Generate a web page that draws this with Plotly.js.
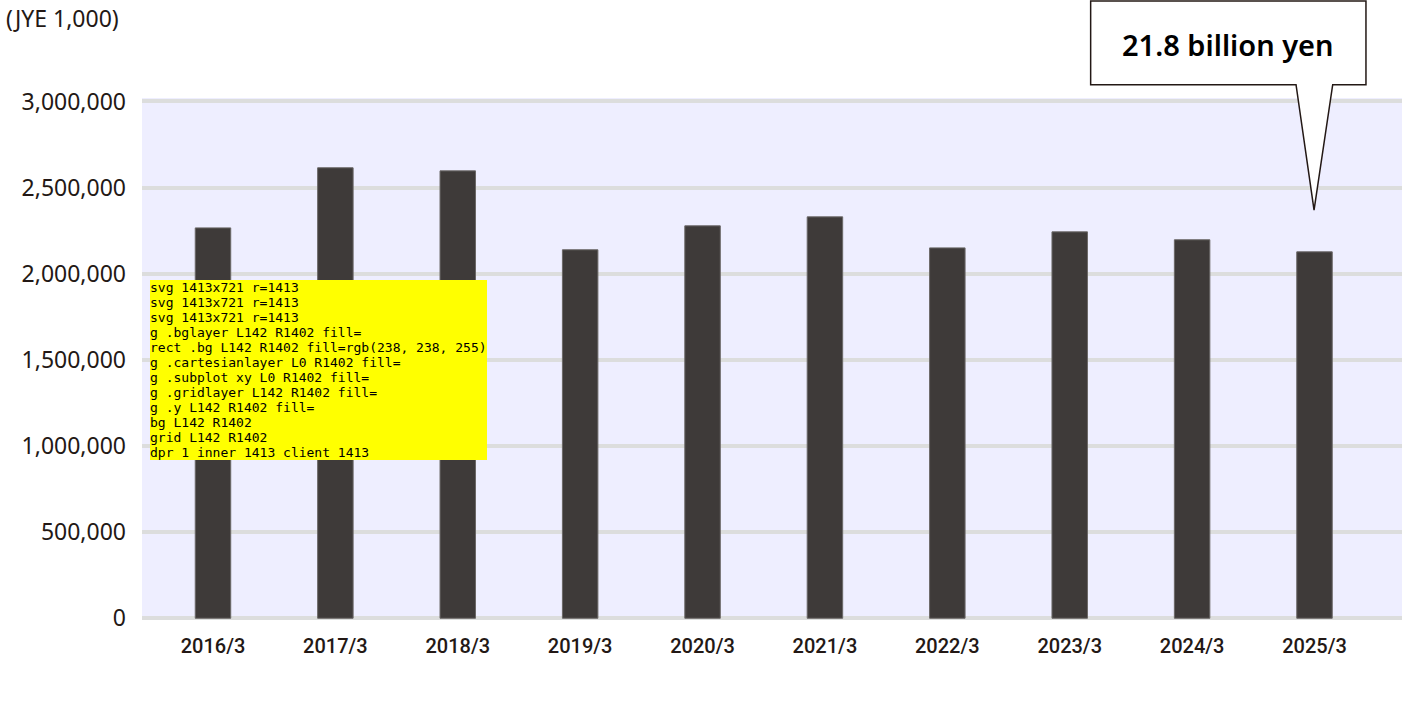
<!DOCTYPE html>
<html>
<head>
<meta charset="utf-8">
<script src="https://cdn.plot.ly/plotly-3.0.1.min.js"></script>
<style>
  html, body { margin: 0; padding: 0; background: #fff; }
  #chart { width: 1413px; height: 721px; }
  #dbg { position: absolute; left: 150px; top: 280px; font: 13px monospace; background: #ff0; z-index: 10; white-space: pre; }
</style>
</head>
<body>
<div id="chart"></div>
<div id="dbg"></div>
<script>
const fiscalYears = ["2016/3", "2017/3", "2018/3", "2019/3", "2020/3", "2021/3", "2022/3", "2023/3", "2024/3", "2025/3"];
const salesThousandYen = [2266000, 2615000, 2597000, 2139000, 2278000, 2330000, 2150000, 2243000, 2197000, 2127000];
const yTickValues = [0, 500000, 1000000, 1500000, 2000000, 2500000, 3000000];
const yTickLabels = ["0", "500,000", "1,000,000", "1,500,000", "2,000,000", "2,500,000", "3,000,000"];
const unitLabel = "(JYE 1,000)";
const calloutLabel = "21.8 billion yen";

const W = 1413, H = 721;
const margin = { l: 142, r: 11, t: 98, b: 101, pad: 0 };
const plotW = W - margin.l - margin.r;
const plotH = H - margin.t - margin.b;
const px = (x) => (x - margin.l) / plotW;
const py = (y) => (H - margin.b - y) / plotH;
const textColor = "#231815";

const salesBars = {
  x: fiscalYears, y: salesThousandYen, type: "bar",
  marker: { color: "#3e3a39", line: { color: "#6b6867", width: 1 } },
};

const calloutPath = [
  [1090.7, 1], [1366, 1], [1366, 84.7], [1332.7, 84.7],
  [1314, 210], [1296, 84.7], [1090.7, 84.7],
].map((p, i) => (i === 0 ? "M" : "L") + px(p[0]).toFixed(4) + "," + py(p[1]).toFixed(4)).join(" ") + " Z";

const chartLayout = {
  width: W, height: H, margin: margin,
  paper_bgcolor: "#ffffff", plot_bgcolor: "#eeeeff",
  showlegend: false, bargap: 0.71,
  font: { family: "Noto Sans, sans-serif", color: textColor },
  xaxis: {
    type: "category", range: [-0.58, 9.715], autorange: false, automargin: false,
    showgrid: false, zeroline: false, showline: false, ticks: "",
    tickfont: { family: "Roboto, sans-serif", size: 20, color: textColor, weight: 500 },
    ticklabelstandoff: 12,
  },
  yaxis: {
    range: [-10000, 3020000], autorange: false, automargin: false,
    tickvals: yTickValues, ticktext: yTickLabels,
    showgrid: true, gridcolor: "#dcdddd", gridwidth: 4, zeroline: false, showline: false, ticks: "",
    tickfont: { family: "Noto Sans, sans-serif", size: 23, color: textColor },
    ticklabelstandoff: 15,
  },
  shapes: [{ type: "path", xref: "paper", yref: "paper", path: calloutPath, fillcolor: "#ffffff", line: { color: textColor, width: 1.5 }, layer: "above" }],
  annotations: [
    { text: unitLabel, xref: "paper", yref: "paper", x: px(4), y: py(18), xanchor: "left", yanchor: "middle", showarrow: false, font: { family: "Noto Sans, sans-serif", size: 23, color: textColor } },
    { text: calloutLabel, xref: "paper", yref: "paper", x: px(1228), y: py(44), xanchor: "center", yanchor: "middle", showarrow: false, font: { family: "Noto Sans, sans-serif", size: 29, color: "#000000", weight: 600 } },
  ],
};

Plotly.newPlot("chart", [salesBars], chartLayout, { displayModeBar: false, staticPlot: true }).then((gd) => {
  const out = [];
  const svgs = document.querySelectorAll("svg.main-svg");
  svgs.forEach((s) => out.push("svg " + s.getAttribute("width") + "x" + s.getAttribute("height") + " r=" + JSON.stringify(s.getBoundingClientRect().width)));
  document.querySelectorAll("#chart svg *").forEach((el) => {
    if (!el.getBoundingClientRect) return;
    const r = el.getBoundingClientRect();
    if (r.left <= 1390 && r.right >= 1390 && r.top <= 400 && r.bottom >= 400 && r.width < 1500) {
      out.push(el.tagName + " ." + (el.getAttribute("class") || "") + " L" + Math.round(r.left) + " R" + Math.round(r.right) + " fill=" + (el.style.fill || el.getAttribute("fill") || ""));
    }
  });
  const bg = document.querySelector(".bg").getBoundingClientRect();
  out.push("bg L" + bg.left + " R" + bg.right);
  const g = document.querySelector(".ygrid").getBoundingClientRect();
  out.push("grid L" + g.left + " R" + g.right);
  out.push("dpr " + window.devicePixelRatio + " inner " + window.innerWidth + " client " + document.documentElement.clientWidth);
  document.getElementById("dbg").textContent = out.slice(0, 24).join("\n");
});
</script>
</body>
</html>
